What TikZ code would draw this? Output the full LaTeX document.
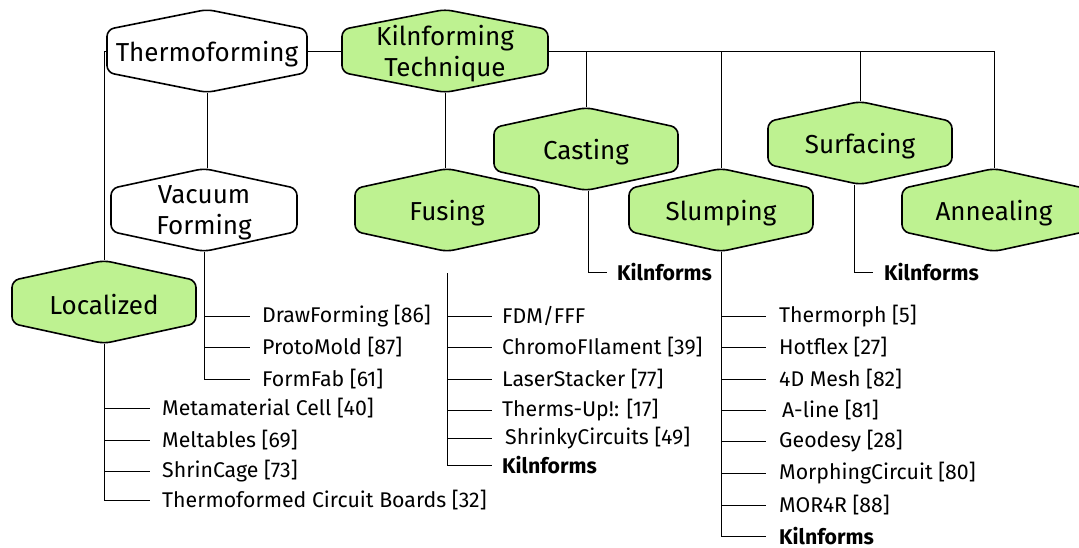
\documentclass[tikz,border=0pt]{standalone}
\usepackage{fontspec}
\setmainfont{Fira Sans}
\usetikzlibrary{calc}
\definecolor{hexgreen}{RGB}{190,242,145}
\tikzset{
  hexline/.style={draw=black, line width=1.6pt, rounded corners=7pt, line join=round},
  hexbox/.style={inner sep=0pt, minimum height=83pt},
  hexlabel/.style={font=\fontsize{26}{31}\selectfont, align=center, inner sep=0pt},
  item/.style={anchor=west, font=\fontsize{21.3}{24}\selectfont, inner sep=0pt},
  kf/.style={item, font=\fontsize{21.3}{24}\selectfont\bfseries},
  conn/.style={draw=black, line width=0.9pt},
}
% #1 name, #2 cx, #3 cy, #4 half width, #5 fill, #6 text
\newcommand\hexnode[6]{%
  \filldraw[hexline, fill=#5] (#2-#4,#3) -- (#2-#4,#3-21.5) -- (#2,#3-41.5) -- (#2+#4,#3-21.5)
    -- (#2+#4,#3+21.5) -- (#2,#3+41.5) -- (#2-#4,#3+21.5) -- cycle;
  \node[hexbox, minimum width=2*#4pt] (#1) at (#2,#3) {};
  \node[hexlabel] (#1-text) at (#2,#3+3) {#6};
}
\begin{document}
\begin{tikzpicture}[x=1pt, y=-1pt]
\useasboundingbox (0,0) rectangle (1079,548);
\clip (0,0) rectangle (1079,548);

% hexagons
\hexnode{thermo}{207}{51}{100}{white}{Thermoforming}
\hexnode{kiln}{445}{51}{103}{hexgreen}{Kilnforming\\Technique}
\hexnode{vac}{204}{210}{93}{white}{Vacuum\\Forming}
\hexnode{loc}{104}{302}{92}{hexgreen}{Localized}
\hexnode{fus}{447}{210}{92}{hexgreen}{Fusing}
\hexnode{cast}{586}{149}{92}{hexgreen}{Casting}
\hexnode{slump}{721}{210}{92}{hexgreen}{Slumping}
\hexnode{surf}{860}{143}{92}{hexgreen}{Surfacing}
\hexnode{anneal}{994}{210}{92}{hexgreen}{Annealing}

% top-level connectors
\draw[conn] (thermo.east) -- (kiln.west);
\draw[conn] (thermo.west) -| (loc.north);
\draw[conn] (thermo.south) -- (thermo.south |- vac.north);
\draw[conn] (kiln.south) -- (kiln.south |- fus.north);
\draw[conn] (kiln.east) -| (cast.north);
\draw[conn] (kiln.east) -| (slump.north);
\draw[conn] (kiln.east) -| (surf.north);
\draw[conn] (kiln.east) -| (anneal.north);

% Vacuum Forming items
\node[item] (df) at (262,316) {DrawForming [86]};
\node[item] (pm) at (262,347) {ProtoMold [87]};
\node[item] (ff) at (262,379) {FormFab [61]};
\foreach \n in {df,pm,ff} \draw[conn] (vac.south) |- ([xshift=-12pt]\n.west);

% Localized items
\node[item] (mc) at (162,408) {Metamaterial Cell [40]};
\node[item] (mt) at (162,440) {Meltables [69]};
\node[item] (sc) at (162,471) {ShrinCage [73]};
\node[item] (tc) at (162,500) {Thermoformed Circuit Boards [32]};
\foreach \n in {mc,mt,sc,tc} \draw[conn] (loc.south) |- ([xshift=-12pt]\n.west);

% Fusing items
\coordinate (fustop) at (447,273);
\node[item] (fdm) at (502,316) {FDM/FFF};
\node[item] (cf) at (502,347) {ChromoFIlament [39]};
\node[item] (ls) at (502,379) {LaserStacker [77]};
\node[item] (tu) at (502,410) {Therms-Up!: [17]};
\node[item] (shc) at (505,438) {ShrinkyCircuits [49]};
\node[kf] (fk) at (502,465) {Kilnforms};
\foreach \n/\s in {fdm/10,cf/10,ls/10,tu/10,shc/13,fk/10} \draw[conn] (fustop) |- ([xshift=-\s pt]\n.west);

% Casting
\node[kf] (ck) at (617,272) {Kilnforms};
\draw[conn] ([xshift=2pt]cast.south) |- ([xshift=-10pt]ck.west);

% Slumping items
\node[item] (tm) at (779,316) {Thermorph [5]};
\node[item] (hf) at (779,347) {Hotflex [27]};
\node[item] (dm) at (779,379) {4D Mesh [82]};
\node[item] (al) at (782,410) {A-line [81]};
\node[item] (gd) at (779,441) {Geodesy [28]};
\node[item] (mpc) at (779,473) {MorphingCircuit [80]};
\node[item] (mr) at (779,505) {MOR4R [88]};
\node[kf] (sk) at (779,536) {Kilnforms};
\foreach \n/\s in {tm/13,hf/13,dm/13,al/16,gd/13,mpc/13,mr/13,sk/13} \draw[conn] (slump.south) |- ([xshift=-\s pt]\n.west);

% Surfacing
\node[kf] (surk) at (884,272) {Kilnforms};
\draw[conn] ([xshift=-6pt]surf.south) |- ([xshift=-11pt]surk.west);
\end{tikzpicture}
\end{document}
